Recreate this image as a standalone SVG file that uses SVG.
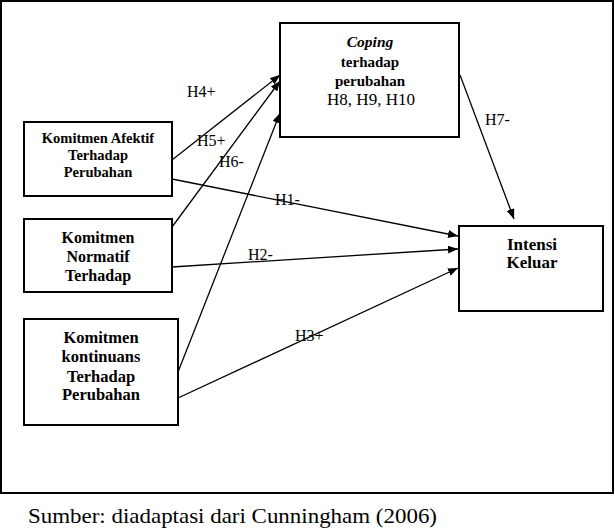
<svg xmlns="http://www.w3.org/2000/svg" width="615" height="530" viewBox="0 0 615 530">
<style>
.box{fill:#fff;stroke:#000;stroke-width:2}
.frame{fill:#fff;stroke:#000;stroke-width:2}
.nt{font-family:"Liberation Serif","Times New Roman",serif;font-weight:bold;text-anchor:middle;fill:#000}
.reg{font-weight:normal}
.lbl{font-family:"Liberation Serif","Times New Roman",serif;font-size:16px;fill:#000}
.conn line{stroke:#000;stroke-width:1.3;marker-end:url(#ah)}
</style>
<defs>
<marker id="ah" viewBox="0 0 10 8" refX="10" refY="4" markerWidth="10" markerHeight="8" markerUnits="userSpaceOnUse" orient="auto">
<path d="M0,0 L10,4 L0,8 Z" fill="#000"/>
</marker>
</defs>
<rect class="frame" x="1" y="1" width="612" height="492"/>
<g id="coping">
<rect class="box" x="280" y="23" width="179" height="114"/>
<text class="nt" x="370" y="47" font-size="15.5" font-style="italic">Coping</text>
<text class="nt" x="370" y="67" font-size="15">terhadap</text>
<text class="nt" x="370" y="86" font-size="15">perubahan</text>
<text class="nt reg" x="371" y="105" font-size="16.5" textLength="88" lengthAdjust="spacingAndGlyphs">H8, H9, H10</text>
</g>
<g id="afektif">
<rect class="box" x="24" y="122" width="148" height="74"/>
<text class="nt" x="98" y="143" font-size="14.5">Komitmen Afektif</text>
<text class="nt" x="98" y="160" font-size="14.5">Terhadap</text>
<text class="nt" x="98" y="177" font-size="14.5">Perubahan</text>
</g>
<g id="normatif">
<rect class="box" x="24" y="219" width="148" height="73"/>
<text class="nt" x="98" y="243" font-size="16">Komitmen</text>
<text class="nt" x="98" y="262" font-size="16">Normatif</text>
<text class="nt" x="98" y="281" font-size="16">Terhadap</text>
</g>
<g id="kontinuans">
<rect class="box" x="24" y="319" width="154" height="106"/>
<text class="nt" x="101" y="343" font-size="16.5">Komitmen</text>
<text class="nt" x="101" y="362" font-size="16.5">kontinuans</text>
<text class="nt" x="101" y="382" font-size="16.5">Terhadap</text>
<text class="nt" x="101" y="400" font-size="16.5">Perubahan</text>
</g>
<g id="intensi">
<rect class="box" x="459" y="226" width="144" height="85"/>
<text class="nt" x="532" y="250" font-size="17">Intensi</text>
<text class="nt" x="532" y="268" font-size="17">Keluar</text>
</g>
<g id="connectors" class="conn">
<line x1="172" y1="160" x2="280" y2="75"/>
<line x1="172" y1="227" x2="280" y2="81"/>
<line x1="178" y1="372" x2="280" y2="113"/>
<line x1="172" y1="179" x2="458" y2="236"/>
<line x1="172" y1="267" x2="458" y2="249"/>
<line x1="178" y1="398" x2="458" y2="268"/>
<line x1="460" y1="75" x2="514" y2="219"/>
</g>
<g id="labels">
<text class="lbl" x="187" y="97">H4+</text>
<text class="lbl" x="197" y="146">H5+</text>
<text class="lbl" x="219" y="167">H6-</text>
<text class="lbl" x="275" y="205">H1-</text>
<text class="lbl" x="248" y="260">H2-</text>
<text class="lbl" x="295" y="341">H3+</text>
<text class="lbl" x="485" y="125">H7-</text>
</g>
<text x="28" y="523" font-family="'Liberation Serif','Times New Roman',serif" font-size="21" textLength="409" lengthAdjust="spacingAndGlyphs" fill="#000">Sumber: diadaptasi dari Cunningham (2006)</text>
</svg>
